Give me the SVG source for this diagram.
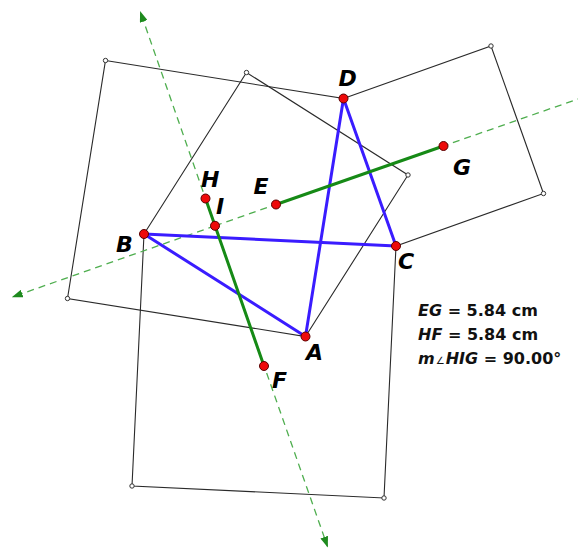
<svg xmlns="http://www.w3.org/2000/svg" width="578" height="548" viewBox="0 0 578 548">
<style>
.sq{fill:none;stroke:#2a2a2a;stroke-width:1.1}
.dash{fill:none;stroke:#4fae4f;stroke-width:1.3;stroke-dasharray:7 5}
.seg{fill:none;stroke:#168a16;stroke-width:3;stroke-linecap:round}
.quad{fill:none;stroke:#3a1cff;stroke-width:3;stroke-linecap:round}
.pt{fill:#ee0a0a;stroke:#5a0000;stroke-width:1}
.vx{fill:#fff;stroke:#333;stroke-width:1}
.lbl{font-family:"DejaVu Sans",sans-serif;font-weight:bold;font-style:italic;font-size:22px;fill:#000}
.meas{font-family:"DejaVu Sans",sans-serif;font-weight:bold;font-size:16px;fill:#111}
</style>
<defs>
<marker id="arr" markerUnits="userSpaceOnUse" markerWidth="11" markerHeight="8" refX="10" refY="4" orient="auto"><path d="M0,0 L11,4 L0,8 z" fill="#1e8a1e"/></marker>
</defs>
<g id="squares">
<polygon class="sq" points="105.5,60.5 343.5,98.5 305.5,336.5 67.5,298.5"/>
<polygon class="sq" points="144,234 246.5,72.5 408,175 305.5,336.5"/>
<polygon class="sq" points="343.5,98.5 491,46 543.5,193.5 396,246"/>
<polygon class="sq" points="144,234 396,246 384,498 132,486"/>
</g>
<g id="connectors">
<path class="dash" d="M215,225.8 L140.4,12" marker-end="url(#arr)"/>
<path class="dash" d="M215,225.8 L327.5,546.5" marker-end="url(#arr)"/>
<path class="dash" d="M215,225.8 L12.7,296.9" marker-end="url(#arr)"/>
<path class="dash" d="M215,225.8 L590,94.8"/>
<line class="quad" x1="144" y1="234" x2="396" y2="246"/>
<line class="quad" x1="396" y1="246" x2="343.5" y2="98.5"/>
<line class="quad" x1="343.5" y1="98.5" x2="305.5" y2="336.5"/>
<line class="quad" x1="305.5" y1="336.5" x2="144" y2="234"/>
<line class="seg" x1="276" y1="204.5" x2="443.5" y2="146"/>
<line class="seg" x1="205.5" y1="198.5" x2="264" y2="366"/>
</g>
<g id="vertices">
<circle class="vx" cx="105.5" cy="60.5" r="2.2"/>
<circle class="vx" cx="67.5" cy="298.5" r="2.2"/>
<circle class="vx" cx="246.5" cy="72.5" r="2.2"/>
<circle class="vx" cx="408" cy="175" r="2.2"/>
<circle class="vx" cx="491" cy="46" r="2.2"/>
<circle class="vx" cx="543.5" cy="193.5" r="2.2"/>
<circle class="vx" cx="132" cy="486" r="2.2"/>
<circle class="vx" cx="384" cy="498" r="2.2"/>
</g>
<g id="node-A"><circle class="pt" cx="305.5" cy="336.5" r="4.5"/><text class="lbl" x="306" y="359.5">A</text></g>
<g id="node-B"><circle class="pt" cx="144" cy="234" r="4.5"/><text class="lbl" x="116" y="252">B</text></g>
<g id="node-C"><circle class="pt" cx="396" cy="246" r="4.5"/><text class="lbl" x="398" y="268.5">C</text></g>
<g id="node-D"><circle class="pt" cx="343.5" cy="98.5" r="4.5"/><text class="lbl" x="338.5" y="86">D</text></g>
<g id="node-E"><circle class="pt" cx="276" cy="204.5" r="4.5"/><text class="lbl" x="253.5" y="193.5">E</text></g>
<g id="node-F"><circle class="pt" cx="264" cy="366" r="4.5"/><text class="lbl" x="272" y="387.5">F</text></g>
<g id="node-G"><circle class="pt" cx="443.5" cy="146" r="4.5"/><text class="lbl" x="453" y="174.5">G</text></g>
<g id="node-H"><circle class="pt" cx="205.5" cy="198.5" r="4.5"/><text class="lbl" x="201" y="187">H</text></g>
<g id="node-I"><circle class="pt" cx="215" cy="225.8" r="4.5"/><text class="lbl" x="216" y="213.5">I</text></g>
<g id="measurements">
<text class="meas" x="418" y="315.5"><tspan font-style="italic">EG</tspan> = 5.84 cm</text>
<text class="meas" x="418" y="340"><tspan font-style="italic">HF</tspan> = 5.84 cm</text>
<text class="meas" x="418" y="364"><tspan font-style="italic">m</tspan><tspan font-size="10" font-weight="normal" dx="1">∠</tspan><tspan font-style="italic" dx="1">HIG</tspan> = 90.00°</text>
</g>
</svg>
